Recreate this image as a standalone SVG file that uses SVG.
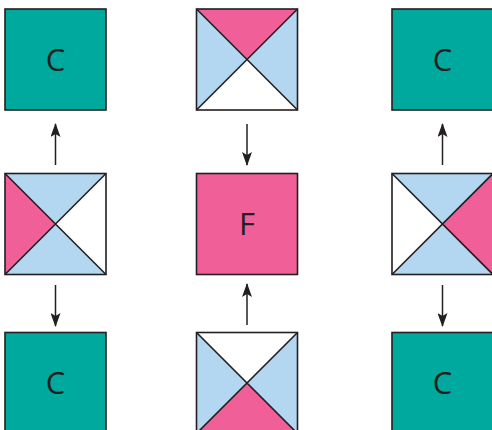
<svg xmlns="http://www.w3.org/2000/svg" width="492" height="430" viewBox="0 0 492 430">
<defs>
<style>
.sq{stroke:#231f20;stroke-width:1.6;stroke-linejoin:miter}
.teal{fill:#00a99d}
.pink{fill:#f05f97}
.blue{fill:#b3d6f1}
.white{fill:#ffffff}
.edge{fill:none;stroke:#231f20;stroke-width:1.6}
.lbl{font-family:"Open Sans","Noto Sans",sans-serif;font-size:31px;fill:#231f20;text-anchor:middle}
.arr{stroke:#231f20;stroke-width:1.5;fill:none;marker-end:url(#ah)}
</style>
<marker id="ah" viewBox="0 0 14 10" refX="13" refY="5" markerWidth="14" markerHeight="10" markerUnits="userSpaceOnUse" orient="auto">
<path d="M0,0 L14,5 L0,10 L3,5 Z" fill="#231f20"/>
</marker>
</defs>
<g id="c-top-left">
<rect class="sq teal" x="5" y="9" width="101" height="101"/>
<text class="lbl" x="55.5" y="70.5">C</text>
</g>
<g id="x-top-mid">
<polygon class="blue" points="196.5,9 247,59.5 196.5,110"/>
<polygon class="blue" points="297.5,9 247,59.5 297.5,110"/>
<polygon class="pink" points="196.5,9 297.5,9 247,59.5"/>
<polygon class="white" points="196.5,110 297.5,110 247,59.5"/>
<path class="edge" d="M196.5,9 L297.5,110 M297.5,9 L196.5,110"/>
<rect class="edge" x="196.5" y="9" width="101" height="101"/>
</g>
<g id="c-top-right">
<rect class="sq teal" x="392" y="9" width="101" height="101"/>
<text class="lbl" x="442.5" y="70.5">C</text>
</g>
<g id="x-mid-left">
<polygon class="blue" points="5,173.5 106,173.5 55.5,224"/>
<polygon class="blue" points="5,274.5 106,274.5 55.5,224"/>
<polygon class="pink" points="5,173.5 55.5,224 5,274.5"/>
<polygon class="white" points="106,173.5 55.5,224 106,274.5"/>
<path class="edge" d="M5,173.5 L106,274.5 M106,173.5 L5,274.5"/>
<rect class="edge" x="5" y="173.5" width="101" height="101"/>
</g>
<g id="f-center">
<rect class="sq pink" x="196.5" y="173.5" width="101" height="101"/>
<text class="lbl" x="247" y="234.5">F</text>
</g>
<g id="x-mid-right">
<polygon class="blue" points="392,173.5 493,173.5 442.5,224"/>
<polygon class="blue" points="392,274.5 493,274.5 442.5,224"/>
<polygon class="white" points="392,173.5 442.5,224 392,274.5"/>
<polygon class="pink" points="493,173.5 442.5,224 493,274.5"/>
<path class="edge" d="M392,173.5 L493,274.5 M493,173.5 L392,274.5"/>
<rect class="edge" x="392" y="173.5" width="101" height="101"/>
</g>
<g id="c-bottom-left">
<rect class="sq teal" x="5" y="332.5" width="101" height="101"/>
<text class="lbl" x="55.5" y="394">C</text>
</g>
<g id="x-bottom-mid">
<polygon class="blue" points="196.5,332.5 247,383 196.5,433.5"/>
<polygon class="blue" points="297.5,332.5 247,383 297.5,433.5"/>
<polygon class="white" points="196.5,332.5 297.5,332.5 247,383"/>
<polygon class="pink" points="196.5,433.5 297.5,433.5 247,383"/>
<path class="edge" d="M196.5,332.5 L297.5,433.5 M297.5,332.5 L196.5,433.5"/>
<rect class="edge" x="196.5" y="332.5" width="101" height="101"/>
</g>
<g id="c-bottom-right">
<rect class="sq teal" x="392" y="332.5" width="101" height="101"/>
<text class="lbl" x="442.5" y="394">C</text>
</g>
<g id="connectors">
<line class="arr" x1="55.5" y1="165" x2="55.5" y2="124"/>
<line class="arr" x1="55.5" y1="285" x2="55.5" y2="326"/>
<line class="arr" x1="247" y1="124" x2="247" y2="165"/>
<line class="arr" x1="247" y1="325" x2="247" y2="284"/>
<line class="arr" x1="442.5" y1="165" x2="442.5" y2="124"/>
<line class="arr" x1="442.5" y1="285" x2="442.5" y2="326"/>
</g>
</svg>
